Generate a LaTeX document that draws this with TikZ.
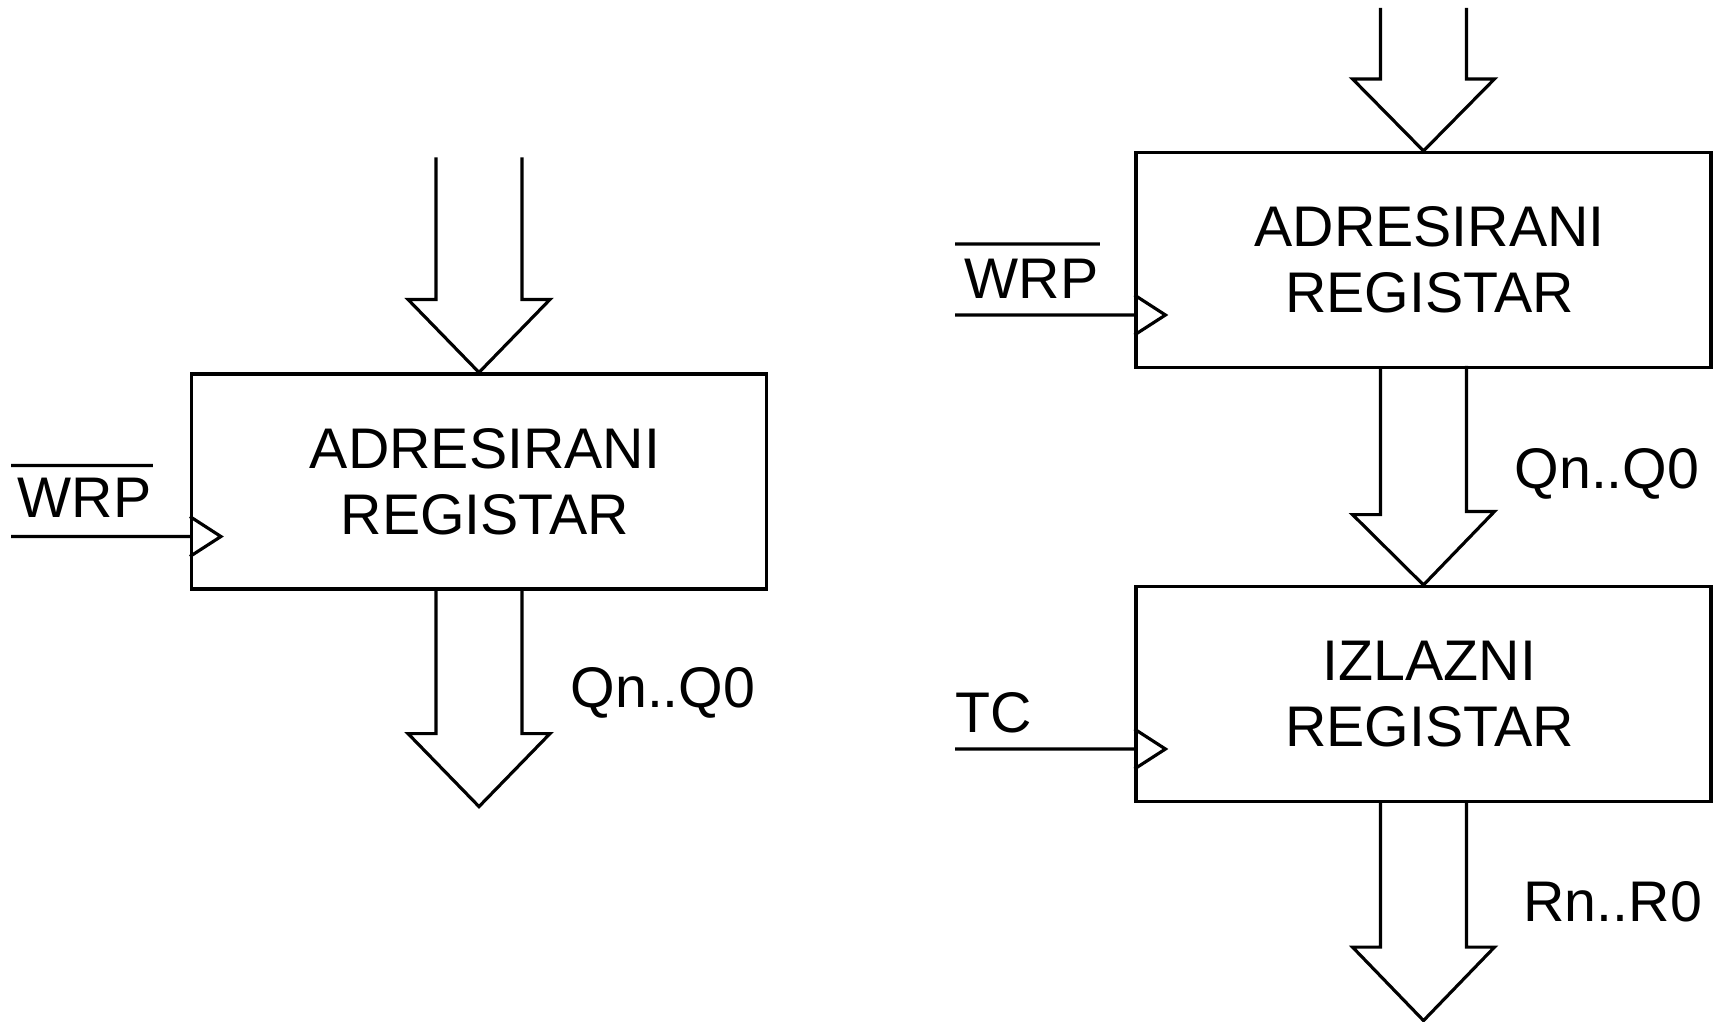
\documentclass[tikz,border=0pt]{standalone}
\usepackage{fontspec}
\setmainfont{Liberation Sans}
\usepackage{tikz}
\tikzset{>=latex}
\tikzset{reg/.style={draw, minimum width=57.5mm, minimum height=21.5mm, align=center}}

\begin{document}
\begin{tikzpicture}[x=1mm, y=1mm, line width=0.9pt, font=\fontsize{16.3}{18.7}\selectfont]
  \useasboundingbox (0,0) rectangle (171.9,102.1);
  % left register
  \node[reg] (adr1) at (47.9,53.95) {\hspace*{1.2mm}ADRESIRANI\\\hspace*{1.2mm}REGISTAR};
  \draw (adr1.north) ++(-4.3,21.5) -- ++(0,-14.2) -- ++(-2.8,0) -- (adr1.north) -- ++(7.1,7.3) -- ++(-2.8,0) -- ++(0,14.2);
  \draw (adr1.south) ++(-4.3,0) -- ++(0,-14.3) -- ++(-2.8,0) -- ++(7.1,-7.3) -- ++(7.1,7.3) -- ++(-2.8,0) -- ++(0,14.3);
  \coordinate (clk1) at ([yshift=-5.5mm]adr1.west);
  \coordinate (in1) at (1.1,48.45);
  \draw (in1) -- (clk1);
  \draw ([yshift=2mm]clk1) -- ++(3.1,-2) -- ++(-3.1,-2);
  \node[anchor=base west, inner sep=0] (wrp1) at (1.6,50.35) {WRP};
  \draw ([shift={(-0.5,1.1)}]wrp1.north west) -- ([yshift=1.1mm]wrp1.north east);
  \node[anchor=base west, inner sep=0] (q1) at (56.9,31.4) {Qn..Q0};
  % right registers
  \node[reg] (adr2) at (142.35,76.1) {\hspace*{1.2mm}ADRESIRANI\\\hspace*{1.2mm}REGISTAR};
  \node[reg] (izl) at (142.35,32.7) {\hspace*{1.2mm}IZLAZNI\\\hspace*{1.2mm}REGISTAR};
  \draw (adr2.north) ++(-4.3,14.3) -- ++(0,-7.1) -- ++(-2.8,0) -- (adr2.north) -- ++(7.1,7.2) -- ++(-2.8,0) -- ++(0,7.1);
  \draw (adr2.south) ++(-4.3,0) -- ++(0,-14.55) -- ++(-2.8,0) -- (izl.north) -- ++(7.1,7.35) -- ++(-2.8,0) -- ++(0,14.55);
  \draw (izl.south) ++(-4.3,0) -- ++(0,-14.4) -- ++(-2.8,0) -- ++(7.1,-7.35) -- ++(7.1,7.35) -- ++(-2.8,0) -- ++(0,14.4);
  \coordinate (clk2) at ([yshift=-5.5mm]adr2.west);
  \coordinate (in2) at (95.5,70.6);
  \draw (in2) -- (clk2);
  \draw ([yshift=2mm]clk2) -- ++(3.1,-2) -- ++(-3.1,-2);
  \coordinate (clk3) at ([yshift=-5.5mm]izl.west);
  \coordinate (in3) at (95.5,27.2);
  \draw (in3) -- (clk3);
  \draw ([yshift=2mm]clk3) -- ++(3.1,-2) -- ++(-3.1,-2);
  \node[anchor=base west, inner sep=0] (wrp2) at (96.3,72.3) {WRP};
  \draw ([shift={(-0.8,1.3)}]wrp2.north west) -- ([yshift=1.3mm]wrp2.north east);
  \node[anchor=base west, inner sep=0] (tc) at (95.4,28.9) {TC};
  \node[anchor=base west, inner sep=0] (q2) at (151.3,53.3) {Qn..Q0};
  \node[anchor=base west, inner sep=0] (r) at (152.2,10.0) {Rn..R0};
\end{tikzpicture}
\end{document}
